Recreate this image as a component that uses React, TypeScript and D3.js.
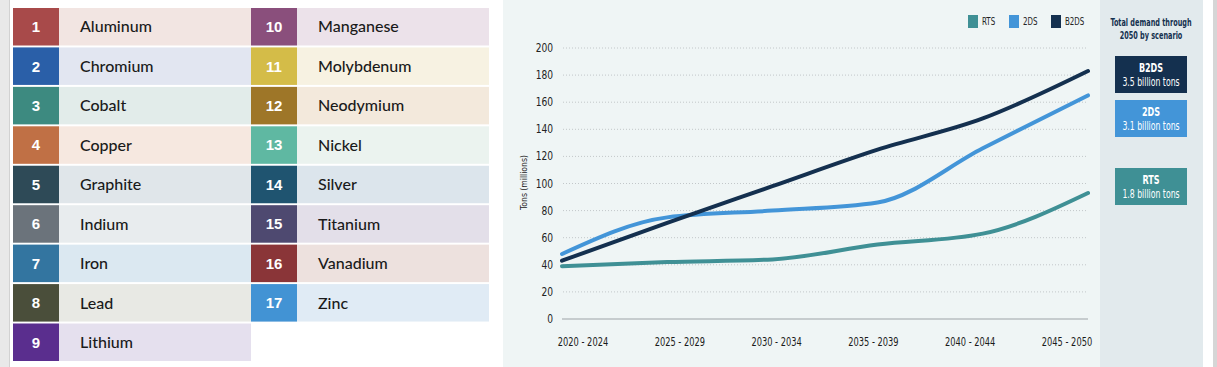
import { useEffect, useRef } from 'react';
import * as d3 from 'd3';

// metals table
const metals = [
  'Aluminum', 'Chromium', 'Cobalt', 'Copper', 'Graphite', 'Indium', 'Iron', 'Lead', 'Lithium',
  'Manganese', 'Molybdenum', 'Neodymium', 'Nickel', 'Silver', 'Titanium', 'Vanadium', 'Zinc',
];
const metalColors = [
  '#a84a4a', '#2a5fa8', '#3d8a80', '#c07045', '#2e4a57', '#6b737b', '#3375a0', '#4a4e3a', '#5a2e8e',
  '#8a4f7c', '#d4bc48', '#9e7628', '#5fb8a2', '#1f5470', '#4e4970', '#8a3538', '#4293d4',
];
const metalBgs = [
  '#f2e5e2', '#e2e6f1', '#e2ecea', '#f6e8e0', '#e0e6ea', '#e8ecee', '#dbe8f1', '#e8e9e4', '#e5e0ee',
  '#ece2ea', '#f7f2e2', '#f3e9dc', '#ebf3ef', '#dce5ec', '#e3dfe9', '#ede1de', '#e0ebf5',
];

// chart data
const periods = ['2020 - 2024', '2025 - 2029', '2030 - 2034', '2035 - 2039', '2040 - 2044', '2045 - 2050'];
const rts = [39, 42, 44, 55, 63, 93];
const twoDs = [48, 75, 80, 86, 126, 165];
const b2ds = [43, 71, 98, 125, 148, 183];
const yTicks = [0, 20, 40, 60, 80, 100, 120, 140, 160, 180, 200];

const scenarios = ['RTS', '2DS', 'B2DS'];
const scenarioColors = ['#3f9095', '#4395d8', '#14304f'];
const totals = ['1.8 billion tons', '3.1 billion tons', '3.5 billion tons'];

const condensed = '"DejaVu Sans Condensed", "DejaVu Sans", sans-serif';

export default function App() {
  const svgRef = useRef<SVGSVGElement>(null);

  useEffect(() => {
    if (!svgRef.current) return;
    const svg = d3.select(svgRef.current);
    svg.selectAll('*').remove();

    // narrow text: squeeze horizontally to mimic the condensed face
    const narrowText = (
      g: d3.Selection<SVGGElement, unknown, null, undefined>,
      x: number, y: number, text: string, size: number, sx: number,
      anchor: string, fill: string, weight = 400,
    ) => {
      g.append('text')
        .attr('transform', `translate(${x},${y}) scale(${sx},1)`)
        .attr('text-anchor', anchor)
        .attr('fill', fill)
        .attr('font-family', condensed)
        .attr('font-weight', weight)
        .attr('font-size', `${size}px`)
        .text(text);
    };

    // backgrounds
    svg.append('rect').attr('x', 0).attr('y', 0).attr('width', 1217).attr('height', 367).attr('fill', '#ffffff');
    svg.append('rect').attr('x', 0).attr('y', 0).attr('width', 9).attr('height', 367).attr('fill', '#e9e9e9');
    svg.append('line').attr('x1', 9.5).attr('x2', 9.5).attr('y1', 0).attr('y2', 367).attr('stroke', '#d2d2d2');
    svg.append('rect').attr('x', 503).attr('y', 0).attr('width', 597).attr('height', 367).attr('fill', '#eff5f5');
    svg.append('rect').attr('x', 1100).attr('y', 0).attr('width', 103).attr('height', 367).attr('fill', '#e2eaed');
    svg.append('rect').attr('x', 1213).attr('y', 0).attr('width', 4).attr('height', 367).attr('fill', '#d6d6d6');

    // table
    const rowY = d3.scaleBand<number>().domain(d3.range(9)).range([8, 361]).paddingInner(0.05);
    const colX = [13, 251];
    const boxW = 46;
    const cellW = 238;

    const table = svg.append('g');
    metals.forEach((name, i) => {
      const col = i < 9 ? 0 : 1;
      const row = i < 9 ? i : i - 9;
      const x = colX[col];
      const y = rowY(row)!;
      const h = rowY.bandwidth();
      table.append('rect').attr('x', x).attr('y', y).attr('width', cellW).attr('height', h).attr('fill', metalBgs[i]);
      table.append('rect').attr('x', x).attr('y', y).attr('width', boxW).attr('height', h).attr('fill', metalColors[i]);
      table.append('text')
        .attr('x', x + boxW / 2)
        .attr('y', y + h / 2)
        .attr('dy', '0.36em')
        .attr('text-anchor', 'middle')
        .attr('fill', '#ffffff')
        .attr('font-family', 'Arial, "Liberation Sans", sans-serif')
        .attr('font-weight', 700)
        .attr('font-size', '15px')
        .text(String(i + 1));
      table.append('text')
        .attr('x', x + 67)
        .attr('y', y + h / 2)
        .attr('dy', '0.36em')
        .attr('fill', '#1a1a1a')
        .attr('font-family', 'Lato, "Noto Sans", sans-serif')
        .attr('font-weight', 500)
        .attr('font-size', '16px')
        .text(name);
    });

    // chart
    const y = d3.scaleLinear().domain([0, 200]).range([319, 48]);
    const xLine = d3.scalePoint<string>().domain(periods).range([562, 1088]);
    const xLabel = d3.scalePoint<string>().domain(periods).range([583, 1067]);

    const chart = svg.append('g');

    yTicks.forEach(t => {
      if (t === 0) {
        chart.append('line')
          .attr('x1', 562).attr('x2', 1088)
          .attr('y1', y(t)).attr('y2', y(t))
          .attr('stroke', '#b9bec0').attr('stroke-width', 1.5);
      } else {
        chart.append('line')
          .attr('x1', 563).attr('x2', 1086)
          .attr('y1', y(t)).attr('y2', y(t))
          .attr('stroke', '#c2c7c9').attr('stroke-width', 1)
          .attr('stroke-dasharray', '1,2');
      }
      narrowText(chart, 553, y(t) + 4, String(t), 11.5, 0.88, 'end', '#222');
    });

    chart.append('text')
      .attr('transform', `translate(527, ${y(100) - 1}) rotate(-90) scale(0.9,1)`)
      .attr('text-anchor', 'middle')
      .attr('fill', '#222')
      .attr('font-family', condensed)
      .attr('font-size', '9.5px')
      .text('Tons (millions)');

    periods.forEach(p => {
      narrowText(chart, xLabel(p)!, 346, p, 11.5, 0.8, 'middle', '#1a1a1a');
    });

    const line = d3.line<number>()
      .x((_, i) => xLine(periods[i])!)
      .y(d => y(d))
      .curve(d3.curveMonotoneX);

    [rts, twoDs, b2ds].forEach((series, k) => {
      chart.append('path')
        .attr('d', line(series)!)
        .attr('fill', 'none')
        .attr('stroke', scenarioColors[k])
        .attr('stroke-width', 4)
        .attr('stroke-linecap', 'round');
    });

    // legend
    const legendX = [968, 1009, 1051];
    scenarios.forEach((s, k) => {
      chart.append('rect')
        .attr('x', legendX[k]).attr('y', 15)
        .attr('width', 10).attr('height', 13)
        .attr('fill', scenarioColors[k]);
      narrowText(chart, legendX[k] + 14, 25, s, 10.5, 0.75, 'start', '#222');
    });

    // side panel
    const side = svg.append('g');
    ['Total demand through', '2050 by scenario'].forEach((t, i) => {
      narrowText(side, 1151, 26 + i * 13, t, 10.5, 0.69, 'middle', '#14304f', 700);
    });

    const boxY = [168, 100, 56];
    [2, 1, 0].forEach(k => {
      side.append('rect')
        .attr('x', 1115).attr('y', boxY[k])
        .attr('width', 72).attr('height', 37)
        .attr('fill', scenarioColors[k]);
      narrowText(side, 1151, boxY[k] + 16, scenarios[k], 11.5, 0.78, 'middle', '#ffffff', 700);
      narrowText(side, 1151, boxY[k] + 30, totals[k], 12, 0.72, 'middle', '#ffffff');
    });
  }, []);

  return (
    <svg
      ref={svgRef}
      width={1217}
      height={367}
      style={{ position: 'absolute', left: 0, top: 0 }}
    />
  );
}
